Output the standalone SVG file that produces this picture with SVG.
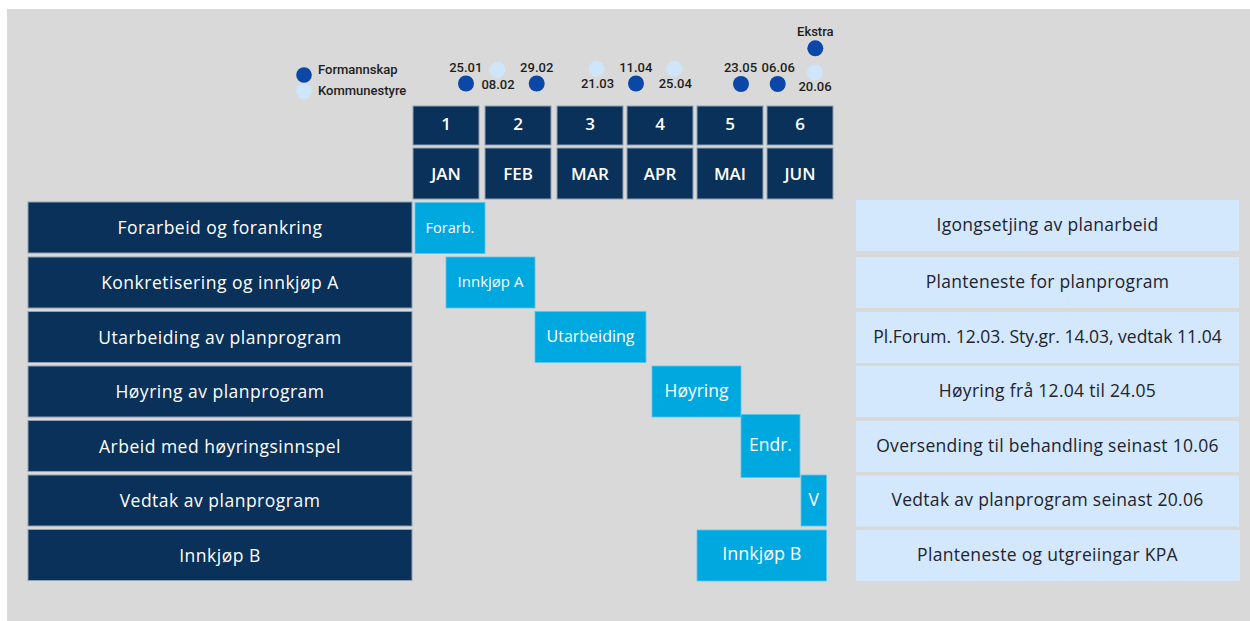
<svg xmlns="http://www.w3.org/2000/svg" width="1250" height="621" viewBox="0 0 1250 621">
<style>
.bg{fill:#d9d9d9}
.task{fill:#0a3159;stroke:#8fa1b4;stroke-width:1}
.hdr{fill:#0a3159;stroke:#8fa1b4;stroke-width:1}
.bar{fill:#00a8e0;stroke:#5cc6ec;stroke-width:0.8}
.note{fill:#d3e8fc}
.tl{font-family:"Open Sans",sans-serif;font-size:17.5px;font-weight:500;fill:#ffffff;text-anchor:middle;letter-spacing:0.5px}
.th{font-family:"Open Sans",sans-serif;font-size:17px;font-weight:600;fill:#ffffff;text-anchor:middle}
.bl{font-family:"Open Sans",sans-serif;font-size:15px;font-weight:500;fill:#ffffff;text-anchor:middle}
.blb{font-family:"Open Sans",sans-serif;font-size:17.5px;font-weight:500;fill:#ffffff;text-anchor:middle}
.nt{font-family:"Open Sans",sans-serif;font-size:17.5px;fill:#22232e;text-anchor:middle;letter-spacing:0.3px}
.lg{font-family:Roboto,sans-serif;font-size:13px;font-weight:500;fill:#1e1e1e}
.dt{font-family:Roboto,sans-serif;font-size:13px;font-weight:500;fill:#1e1e1e;text-anchor:middle}
.fm{fill:#0b47a6}
.ks{fill:#cfe5fa}
</style>
<rect class="bg" x="7" y="9" width="1243" height="612"/>

<g id="legend">
  <circle class="fm" cx="304" cy="75" r="7.8"/>
  <text class="lg" x="318" y="73.5">Formannskap</text>
  <circle class="ks" cx="304" cy="91.5" r="7.8"/>
  <text class="lg" x="318" y="95">Kommunestyre</text>
</g>

<g id="meetings">
  <circle class="fm" cx="466" cy="83.5" r="8"/>
  <text class="dt" x="465.8" y="72">25.01</text>
  <circle class="ks" cx="497.3" cy="70" r="8"/>
  <text class="dt" x="498" y="89">08.02</text>
  <circle class="fm" cx="536.7" cy="83.5" r="8"/>
  <text class="dt" x="536.7" y="72">29.02</text>
  <circle class="ks" cx="596.7" cy="69" r="8"/>
  <text class="dt" x="597.5" y="88">21.03</text>
  <circle class="fm" cx="636" cy="83.5" r="8"/>
  <text class="dt" x="635.8" y="72">11.04</text>
  <circle class="ks" cx="674.3" cy="69" r="8"/>
  <text class="dt" x="675.3" y="88">25.04</text>
  <circle class="fm" cx="741" cy="84" r="8"/>
  <text class="dt" x="740.5" y="72">23.05</text>
  <circle class="fm" cx="777.7" cy="84" r="8"/>
  <text class="dt" x="778.2" y="72">06.06</text>
  <circle class="ks" cx="815" cy="72.5" r="8"/>
  <text class="dt" x="815" y="91">20.06</text>
  <circle class="fm" cx="815.3" cy="48.3" r="8"/>
  <text class="dt" x="815.3" y="36">Ekstra</text>
</g>

<g id="months">
  <rect class="hdr" x="413" y="106" width="66" height="39"/><text class="th" x="446" y="130">1</text>
  <rect class="hdr" x="485" y="106" width="66" height="39"/><text class="th" x="518" y="130">2</text>
  <rect class="hdr" x="557" y="106" width="66" height="39"/><text class="th" x="590" y="130">3</text>
  <rect class="hdr" x="627" y="106" width="66" height="39"/><text class="th" x="660" y="130">4</text>
  <rect class="hdr" x="697" y="106" width="66" height="39"/><text class="th" x="730" y="130">5</text>
  <rect class="hdr" x="767" y="106" width="66" height="39"/><text class="th" x="800" y="130">6</text>
  <rect class="hdr" x="413" y="148" width="66" height="51"/><text class="th" x="446" y="180">JAN</text>
  <rect class="hdr" x="485" y="148" width="66" height="51"/><text class="th" x="518" y="180">FEB</text>
  <rect class="hdr" x="557" y="148" width="66" height="51"/><text class="th" x="590" y="180">MAR</text>
  <rect class="hdr" x="627" y="148" width="66" height="51"/><text class="th" x="660" y="180">APR</text>
  <rect class="hdr" x="697" y="148" width="66" height="51"/><text class="th" x="730" y="180">MAI</text>
  <rect class="hdr" x="767" y="148" width="66" height="51"/><text class="th" x="800" y="180">JUN</text>
</g>

<g id="tasks">
  <g id="task1"><rect class="task" x="28" y="202" width="384" height="51"/><text class="tl" x="220" y="234">Forarbeid og forankring</text></g>
  <g id="task2"><rect class="task" x="28" y="257" width="384" height="51"/><text class="tl" x="220" y="289">Konkretisering og innkjøp A</text></g>
  <g id="task3"><rect class="task" x="28" y="311.5" width="384" height="51"/><text class="tl" x="220" y="343.5">Utarbeiding av planprogram</text></g>
  <g id="task4"><rect class="task" x="28" y="366" width="384" height="51"/><text class="tl" x="220" y="398">Høyring av planprogram</text></g>
  <g id="task5"><rect class="task" x="28" y="420.5" width="384" height="51"/><text class="tl" x="220" y="452.5">Arbeid med høyringsinnspel</text></g>
  <g id="task6"><rect class="task" x="28" y="475" width="384" height="51"/><text class="tl" x="220" y="507">Vedtak av planprogram</text></g>
  <g id="task7"><rect class="task" x="28" y="529.5" width="384" height="51"/><text class="tl" x="220" y="561.5">Innkjøp B</text></g>
</g>

<g id="bars">
  <g id="bar1"><rect class="bar" x="415" y="202.5" width="70" height="51"/><text class="bl" x="450" y="233" style="font-size:14.5px">Forarb.</text></g>
  <g id="bar2"><rect class="bar" x="446" y="257" width="89" height="51"/><text class="bl" x="490.5" y="287">Innkjøp A</text></g>
  <g id="bar3"><rect class="bar" x="535" y="311.5" width="111" height="51"/><text class="bl" x="590.5" y="342" style="font-size:16px">Utarbeiding</text></g>
  <g id="bar4"><rect class="bar" x="652" y="366" width="89" height="51"/><text class="blb" x="696.5" y="397">Høyring</text></g>
  <g id="bar5"><rect class="bar" x="741" y="414.5" width="59" height="63"/><text class="blb" x="770.5" y="451">Endr.</text></g>
  <g id="bar6"><rect class="bar" x="801" y="475" width="25.5" height="51"/><text class="blb" x="813.8" y="506">V</text></g>
  <g id="bar7"><rect class="bar" x="697" y="530" width="129.5" height="51"/><text class="blb" x="761.8" y="560" style="font-size:18px">Innkjøp B</text></g>
</g>

<g id="notes">
  <g id="note1"><rect class="note" x="856" y="200" width="383" height="51"/><text class="nt" x="1047.5" y="230.5">Igongsetjing av planarbeid</text></g>
  <g id="note2"><rect class="note" x="856" y="257" width="383" height="51"/><text class="nt" x="1047.5" y="287.5">Planteneste for planprogram</text></g>
  <g id="note3"><rect class="note" x="856" y="312" width="383" height="51"/><text class="nt" x="1047.5" y="342.5" style="letter-spacing:0px">Pl.Forum. 12.03. Sty.gr. 14.03, vedtak 11.04</text></g>
  <g id="note4"><rect class="note" x="856" y="366" width="383" height="51"/><text class="nt" x="1047.5" y="396.5">Høyring frå 12.04 til 24.05</text></g>
  <g id="note5"><rect class="note" x="856" y="421" width="383" height="51"/><text class="nt" x="1047.5" y="451.5">Oversending til behandling seinast 10.06</text></g>
  <g id="note6"><rect class="note" x="856" y="475.5" width="383" height="51"/><text class="nt" x="1047.5" y="506">Vedtak av planprogram seinast 20.06</text></g>
  <g id="note7"><rect class="note" x="856" y="530" width="384" height="51"/><text class="nt" x="1047.5" y="560.5">Planteneste og utgreiingar KPA</text></g>
</g>
</svg>
